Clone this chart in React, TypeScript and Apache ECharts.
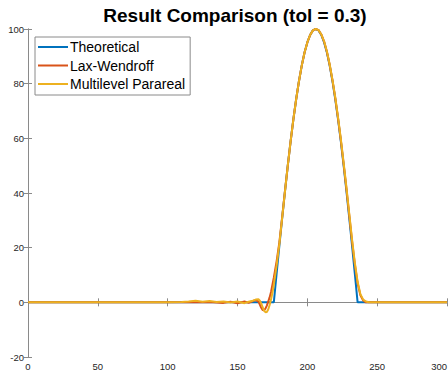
import React, { useEffect, useRef } from "react";
import * as echarts from "echarts";

const xTicks = [0, 50, 100, 150, 200, 250, 300];
const yTicks = [-20, 0, 20, 40, 60, 80, 100];

const seriesNames = ["Theoretical", "Lax-Wendroff", "Multilevel Parareal"];
const seriesColors = ["#0072BD", "#D95319", "#EDB120"];

const theoX = [0, 176, 178, 180, 182, 184, 186, 188, 190, 192, 194, 196, 198, 200, 202, 204, 206, 208, 210, 212, 214, 216, 218, 220, 222, 224, 226, 228, 230, 232, 234, 236, 300];
const theoY = [0, 0, 10.5, 20.8, 30.9, 40.7, 50, 58.8, 66.9, 74.3, 80.9, 86.6, 91.4, 95.1, 97.8, 99.5, 100, 99.5, 97.8, 95.1, 91.4, 86.6, 80.9, 74.3, 66.9, 58.8, 50, 40.7, 30.9, 20.8, 10.5, 0, 0];

const lwX = [0, 120, 130, 140, 145, 150, 155, 158, 161, 163, 165, 166, 167, 168, 169, 170, 171, 172, 173, 174, 176, 178, 180, 182, 184, 186, 188, 190, 192, 194, 196, 198, 200, 202, 204, 206, 208, 210, 212, 214, 216, 218, 220, 222, 224, 226, 228, 230, 232, 234, 236, 238, 240, 242, 300];
const lwY = [0, 0, 0.1, -0.2, 0.2, -0.3, 0.3, -0.2, 0.5, 0.8, 0.3, -0.8, -2, -2.8, -2.9, -2.3, -1.2, 0.3, 1.8, 3.8, 9, 15, 22, 31.3, 40.8, 50, 58.8, 66.9, 74.3, 80.9, 86.6, 91.4, 95.1, 97.8, 99.5, 100, 99.6, 98, 95.4, 91.7, 86.9, 81.2, 74.7, 67.3, 59.3, 50.6, 41.5, 32, 22.5, 14, 7, 2.6, 0.7, 0, 0];

const mpX = [0, 100, 110, 115, 120, 125, 130, 135, 140, 145, 150, 155, 158, 161, 163, 165, 166, 167, 168, 169, 170, 171, 172, 173, 174, 175, 176, 178, 180, 182, 184, 186, 188, 190, 192, 194, 196, 198, 200, 202, 204, 206, 208, 210, 212, 214, 216, 218, 220, 222, 224, 226, 228, 230, 232, 234, 236, 238, 240, 242, 244, 300];
const mpY = [0, 0, 0.1, 0.3, 0.6, 0.2, 0.5, 0.1, 0.3, -0.1, 0.3, -0.3, 0.2, 0.6, 1.0, 1.1, 0.6, -0.4, -1.8, -3, -3.6, -3.5, -2.6, -1, 1, 3.5, 6.5, 13.5, 21.5, 31, 40.6, 50, 58.8, 66.9, 74.3, 80.9, 86.6, 91.4, 95.1, 97.8, 99.5, 100, 99.6, 98, 95.5, 91.8, 87, 81.4, 75, 67.6, 59.7, 51, 42, 32.5, 23, 14.5, 7.5, 3, 1, 0.3, 0, 0];

const titleText = "Result Comparison (tol = 0.3)";

function pairs(xs: number[], ys: number[]) {
  return xs.map((x, i) => [x, ys[i]]);
}

export default function App() {
  const ref = useRef<HTMLDivElement>(null);
  useEffect(() => {
    if (!ref.current) return;
    const chart = echarts.init(ref.current, null, { renderer: "svg" });
    const font = "'Liberation Sans', Arial, Helvetica, sans-serif";
    const axisColor = "#8a8a8a";
    const tickLen = 4;
    const dataSets = [pairs(theoX, theoY), pairs(lwX, lwY), pairs(mpX, mpY)];
    chart.setOption({
      animation: false,
      backgroundColor: "#ffffff",
      textStyle: { fontFamily: font },
      graphic: [
        {
          type: "text",
          x: 235,
          y: 6,
          style: {
            text: titleText,
            font: `bold 19px ${font}`,
            fill: "#000000",
            textAlign: "center",
          },
        },
      ],
      grid: { left: 28, right: 1, top: 29, bottom: 19, containLabel: false, outerBoundsMode: "none" },
      legend: {
        orient: "vertical",
        left: 35,
        top: 37,
        padding: [3, 5, 4, 3],
        itemGap: 4.5,
        itemWidth: 30,
        itemHeight: 2,
        icon: "rect",
        backgroundColor: "#ffffff",
        borderColor: "#8a8a8a",
        borderWidth: 1,
        borderRadius: 0,
        textStyle: { fontFamily: font, fontSize: 14, color: "#000000", padding: [0, 0, 0, -3], lineHeight: 14 },
        data: seriesNames,
      },
      xAxis: [
        {
          type: "value",
          min: xTicks[0],
          max: xTicks[xTicks.length - 1],
          interval: 50,
          position: "bottom",
          axisLine: { show: true, lineStyle: { color: axisColor, width: 1 } },
          axisTick: { show: true, inside: true, length: tickLen, lineStyle: { color: axisColor } },
          axisLabel: { color: "#262626", fontSize: 9.5, margin: 4, fontFamily: font, hideOverlap: false, alignMaxLabel: "right" },
          splitLine: { show: false },
        },
        {
          type: "value",
          min: xTicks[0],
          max: xTicks[xTicks.length - 1],
          interval: 50,
          position: "top",
          axisLine: { show: true, lineStyle: { color: axisColor, width: 1 } },
          axisTick: { show: true, inside: true, length: tickLen, lineStyle: { color: axisColor } },
          axisLabel: { show: false },
          splitLine: { show: false },
        },
      ],
      yAxis: [
        {
          type: "value",
          min: yTicks[0],
          max: yTicks[yTicks.length - 1],
          interval: 20,
          position: "left",
          axisLine: { show: true, lineStyle: { color: axisColor, width: 1 } },
          axisTick: { show: true, inside: true, length: tickLen, lineStyle: { color: axisColor } },
          axisLabel: { color: "#262626", fontSize: 9.5, margin: 4, fontFamily: font },
          splitLine: { show: false },
        },
        {
          type: "value",
          min: yTicks[0],
          max: yTicks[yTicks.length - 1],
          interval: 20,
          position: "right",
          axisLine: { show: true, lineStyle: { color: axisColor, width: 1 } },
          axisTick: { show: true, inside: true, length: tickLen, lineStyle: { color: axisColor } },
          axisLabel: { show: false },
          splitLine: { show: false },
        },
      ],
      series: seriesNames.map((name, i) => ({
        name,
        type: "line",
        xAxisIndex: 0,
        yAxisIndex: 0,
        data: dataSets[i],
        showSymbol: false,
        symbol: "none",
        color: seriesColors[i],
        lineStyle: { width: 2, color: seriesColors[i] },
        itemStyle: { color: seriesColors[i] },
        clip: false,
      })),
    });
    return () => chart.dispose();
  }, []);
  return <div ref={ref} style={{ position: "fixed", left: 0, top: 0, width: 448, height: 376 }} />;
}
